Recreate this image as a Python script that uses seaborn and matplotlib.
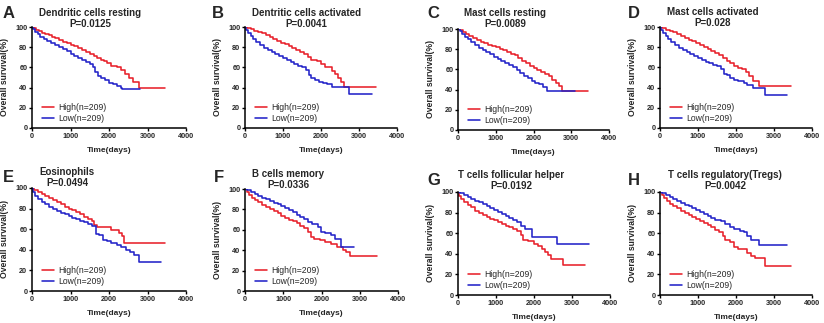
import numpy as np
import pandas as pd
import matplotlib
matplotlib.use("Agg")
import matplotlib.pyplot as plt
from matplotlib.lines import Line2D
import seaborn as sns

sns.set_style("ticks")
plt.rcParams['font.family'] = ['Liberation Sans', 'DejaVu Sans']

# ---------------- data ----------------
letters = ["A", "B", "C", "D", "E", "F", "G", "H"]
titles = ["Dendritic cells resting", "Dentritic cells activated", "Mast cells resting",
          "Mast cells activated", "Eosinophils", "B cells memory",
          "T cells follicular helper", "T cells regulatory(Tregs)"]
pvalues = ["P=0.0125", "P=0.0041", "P=0.0089", "P=0.028",
           "P=0.0494", "P=0.0336", "P=0.0192", "P=0.0042"]
group_labels = ["High(n=209)", "Low(n=209)"]

A_high_t = [0, 40, 110, 180, 260, 350, 430, 520, 600, 700, 800, 900, 1000, 1100, 1200, 1300, 1400, 1500, 1600, 1700, 1800, 1880, 1950, 2050, 2200, 2320, 2420, 2520, 2620, 2780, 3450]
A_high_s = [100, 99, 97, 96, 94, 93, 92, 90, 89, 87, 85, 84, 82, 81, 79, 77, 75, 73, 71, 69, 67, 66, 64, 61, 60, 57, 53, 50, 46, 40, 40]
A_low_t = [0, 30, 80, 150, 220, 300, 400, 500, 600, 700, 800, 900, 1000, 1100, 1200, 1300, 1400, 1500, 1580, 1640, 1720, 1800, 1900, 2000, 2100, 2200, 2300, 2350, 2800]
A_low_s = [100, 98, 95, 93, 90, 88, 86, 84, 82, 80, 78, 76, 73, 71, 69, 67, 65, 63, 60, 55, 51, 50, 48, 45, 44, 42, 40, 39, 39]

B_high_t = [0, 60, 150, 250, 350, 450, 550, 650, 750, 850, 950, 1050, 1150, 1250, 1350, 1450, 1550, 1650, 1750, 1900, 2000, 2100, 2200, 2300, 2380, 2450, 2520, 2600, 3450]
B_high_s = [100, 99, 98, 96, 95, 94, 92, 90, 88, 86, 84, 83, 81, 79, 77, 75, 73, 70, 67, 66, 63, 60, 60, 56, 53, 50, 46, 41, 41]
B_low_t = [0, 30, 80, 150, 220, 300, 400, 500, 600, 700, 800, 900, 1000, 1100, 1200, 1300, 1400, 1500, 1600, 1680, 1750, 1850, 1950, 2050, 2150, 2300, 2750, 3350]
B_low_s = [100, 97, 94, 91, 88, 85, 82, 79, 77, 75, 73, 71, 69, 67, 65, 63, 61, 60, 57, 52, 50, 48, 46, 45, 44, 41, 34, 34]

C_high_t = [0, 50, 120, 200, 300, 400, 500, 600, 700, 800, 900, 1000, 1100, 1200, 1300, 1400, 1500, 1600, 1700, 1800, 1900, 2000, 2100, 2200, 2300, 2400, 2500, 2600, 2680, 2750, 3450]
C_high_s = [100, 99, 97, 95, 93, 91, 89, 87, 86, 84, 83, 82, 80, 79, 77, 75, 74, 71, 68, 66, 63, 61, 59, 57, 55, 53, 50, 47, 44, 39, 39]
C_low_t = [0, 40, 100, 180, 260, 350, 450, 550, 650, 750, 850, 950, 1050, 1150, 1250, 1350, 1450, 1550, 1650, 1750, 1850, 1950, 2050, 2150, 2250, 2350, 3100]
C_low_s = [100, 98, 95, 92, 90, 87, 84, 81, 79, 77, 75, 72, 70, 68, 66, 64, 62, 59, 56, 53, 51, 49, 47, 46, 43, 39, 39]

D_high_t = [0, 60, 150, 250, 350, 450, 550, 650, 750, 850, 950, 1050, 1150, 1250, 1350, 1450, 1550, 1650, 1750, 1850, 1950, 2050, 2150, 2250, 2350, 2450, 2600, 3450]
D_high_s = [100, 99, 97, 96, 95, 93, 91, 89, 87, 86, 84, 82, 80, 78, 76, 74, 72, 69, 66, 64, 61, 59, 58, 55, 51, 47, 42, 42]
D_low_t = [0, 30, 80, 150, 220, 300, 400, 500, 600, 700, 800, 900, 1000, 1100, 1200, 1300, 1400, 1500, 1600, 1680, 1750, 1850, 1950, 2050, 2200, 2300, 2450, 2750, 3350]
D_low_s = [100, 97, 94, 91, 88, 85, 82, 79, 77, 75, 73, 71, 69, 67, 65, 64, 62, 61, 58, 53, 52, 50, 48, 47, 45, 43, 40, 33, 33]

E_high_t = [0, 60, 150, 250, 350, 450, 550, 650, 750, 850, 950, 1050, 1150, 1250, 1350, 1450, 1550, 1620, 1700, 1850, 2050, 2150, 2250, 2330, 2400, 3450]
E_high_s = [100, 98, 96, 94, 92, 90, 88, 86, 84, 82, 80, 79, 77, 75, 72, 70, 68, 64, 62, 62, 59, 59, 56, 53, 47, 47]
E_low_t = [0, 30, 80, 150, 250, 350, 450, 550, 650, 750, 850, 950, 1050, 1150, 1250, 1350, 1450, 1550, 1660, 1750, 1850, 1950, 2050, 2200, 2300, 2450, 2550, 2650, 2780, 3350]
E_low_s = [100, 96, 92, 89, 86, 84, 82, 80, 78, 76, 75, 73, 71, 70, 68, 67, 65, 63, 55, 54, 50, 49, 47, 45, 43, 40, 38, 35, 28, 28]

F_high_t = [0, 40, 100, 180, 260, 350, 450, 550, 650, 750, 850, 950, 1050, 1150, 1250, 1350, 1450, 1550, 1650, 1720, 1800, 1950, 2100, 2250, 2400, 2550, 2650, 2750, 3450]
F_high_s = [100, 97, 94, 91, 89, 87, 84, 82, 80, 78, 76, 74, 72, 70, 69, 67, 64, 62, 58, 53, 51, 50, 48, 46, 43, 40, 38, 34, 34]
F_low_t = [0, 60, 150, 250, 350, 450, 550, 650, 750, 850, 950, 1050, 1150, 1250, 1350, 1450, 1550, 1650, 1750, 1900, 1980, 2100, 2250, 2350, 2450, 2500, 2850]
F_low_s = [100, 99, 97, 95, 93, 91, 90, 88, 86, 85, 83, 81, 79, 77, 75, 73, 71, 68, 66, 63, 58, 57, 55, 51, 51, 43, 43]

G_high_t = [0, 30, 80, 150, 250, 350, 450, 550, 650, 750, 850, 950, 1050, 1150, 1250, 1350, 1450, 1550, 1650, 1720, 1850, 2000, 2100, 2200, 2300, 2380, 2450, 2750, 3350]
G_high_s = [100, 96, 93, 90, 87, 85, 82, 80, 78, 76, 74, 73, 71, 69, 67, 66, 64, 62, 58, 53, 52, 50, 48, 45, 42, 39, 35, 29, 29]
G_low_t = [0, 60, 150, 250, 350, 450, 550, 650, 750, 850, 950, 1050, 1150, 1250, 1350, 1450, 1550, 1650, 1750, 1850, 1950, 2600, 3450]
G_low_s = [100, 99, 97, 95, 93, 91, 90, 88, 86, 84, 83, 81, 79, 77, 75, 73, 71, 67, 64, 64, 56, 50, 50]

H_high_t = [0, 40, 100, 180, 260, 350, 450, 550, 650, 750, 850, 950, 1050, 1150, 1250, 1350, 1450, 1550, 1650, 1720, 1850, 1950, 2050, 2200, 2300, 2400, 2500, 2750, 3450]
H_high_s = [100, 97, 94, 91, 88, 86, 84, 82, 80, 78, 76, 74, 72, 70, 68, 66, 63, 61, 57, 53, 51, 47, 45, 45, 41, 38, 36, 28, 28]
H_low_t = [0, 60, 150, 250, 350, 450, 550, 650, 750, 850, 950, 1050, 1150, 1250, 1350, 1450, 1600, 1700, 1850, 1950, 2100, 2200, 2300, 2400, 2600, 3350]
H_low_s = [100, 99, 97, 95, 93, 91, 89, 87, 86, 84, 83, 81, 79, 77, 75, 73, 72, 69, 66, 64, 62, 61, 57, 53, 49, 49]

curves = [
    (A_high_t, A_high_s, A_low_t, A_low_s),
    (B_high_t, B_high_s, B_low_t, B_low_s),
    (C_high_t, C_high_s, C_low_t, C_low_s),
    (D_high_t, D_high_s, D_low_t, D_low_s),
    (E_high_t, E_high_s, E_low_t, E_low_s),
    (F_high_t, F_high_s, F_low_t, F_low_s),
    (G_high_t, G_high_s, G_low_t, G_low_s),
    (H_high_t, H_high_s, H_low_t, H_low_s),
]

x_ticks = [0, 1000, 2000, 3000, 4000]
y_ticks = [0, 20, 40, 60, 80, 100]

# ---------------- layout (pixels) ----------------
W, H = 824, 323
axes_px = [(32, 27, 186, 128), (245, 27, 397, 128), (458, 29, 609, 130), (660, 27, 812, 128),
           (32, 188, 186, 291), (245, 189, 398, 291), (458, 192, 610, 295), (660, 192, 812, 295)]
title_cx = [90, 306, 505, 713, 67, 288, 511, 725]
title_y1 = [13, 13, 13, 12, 172, 174, 175, 175]
letter_pos = [(3, 18), (212, 18), (427, 18), (628, 18), (3, 182), (214, 182), (427, 185), (628, 185)]

RED = "#e8202a"
BLUE = "#2323c8"

fig = plt.figure(figsize=(W / 100, H / 100), dpi=100)

for i in range(8):
    l, t, r, b = axes_px[i]
    ax = fig.add_axes([l / W, 1 - b / H, (r - l) / W, (b - t) / H])
    ht, hs, lt, ls = curves[i]
    df = pd.concat([
        pd.DataFrame({"t": ht, "s": hs, "g": group_labels[0]}),
        pd.DataFrame({"t": lt, "s": ls, "g": group_labels[1]}),
    ])
    sns.lineplot(data=df, x="t", y="s", hue="g", hue_order=group_labels,
                 palette=[RED, BLUE], drawstyle="steps-post", estimator=None,
                 linewidth=1.15, ax=ax, legend=False)
    ax.set_xlim(0, 4000)
    ax.set_ylim(0, 100)
    ax.set_xticks(x_ticks)
    ax.set_yticks(y_ticks)
    ax.set_xticklabels([str(v) for v in x_ticks], fontsize=5.2, fontweight="bold")
    ax.set_yticklabels([str(v) for v in y_ticks], fontsize=5.2, fontweight="bold")
    ax.tick_params(axis="both", length=2.2, width=1.0, pad=1.2, color="black")
    for sp in ["left", "bottom"]:
        ax.spines[sp].set_linewidth(1.1)
        ax.spines[sp].set_color("black")
    for sp in ["top", "right"]:
        ax.spines[sp].set_visible(False)
    ax.set_xlabel("Time(days)", fontsize=6, fontweight="bold")
    ax.set_ylabel("Overall survival(%)", fontsize=6.2, fontweight="bold")
    axw = r - l
    axh = b - t
    ax.yaxis.set_label_coords(-23 / axw, 0.5)
    ax.xaxis.set_label_coords(0.5, -19 / axh)

    handles = [Line2D([], [], color=RED, lw=1.15), Line2D([], [], color=BLUE, lw=1.15)]
    ax.legend(handles, group_labels, loc="lower left", bbox_to_anchor=(0.065, 0.05),
              frameon=False, fontsize=6.2, handlelength=1.4, handletextpad=0.5,
              labelspacing=0.25, borderpad=0, borderaxespad=0)

    fig.text(title_cx[i] / W, 1 - (title_y1[i] + 5.5) / H, titles[i] + "\n" + pvalues[i],
             ha="center", va="center", fontsize=7, fontweight="bold",
             linespacing=1.1, transform=fig.transFigure)
    lx, ly = letter_pos[i]
    fig.text(lx / W, 1 - ly / H, letters[i], ha="left", va="baseline",
             fontsize=12, fontweight="bold")

fig.savefig("out.png", dpi=100)
